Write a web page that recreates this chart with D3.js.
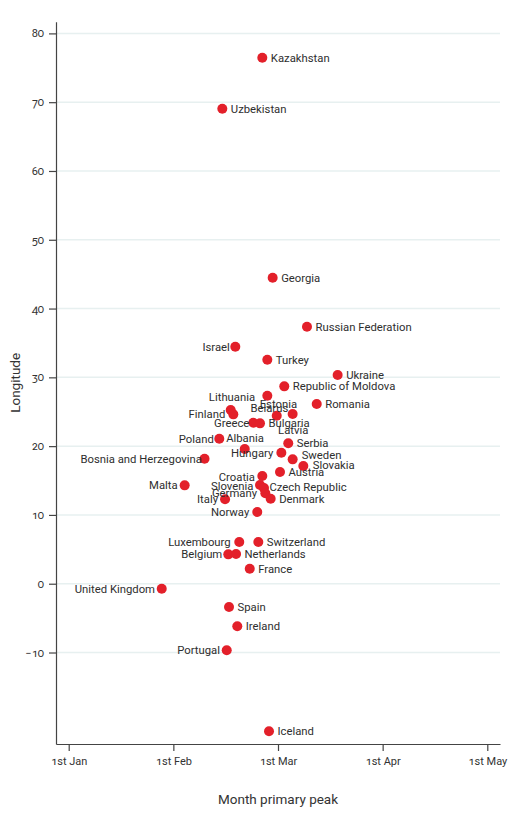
<!DOCTYPE html>
<html>
<head>
<meta charset="utf-8">
<script src="https://cdn.jsdelivr.net/npm/d3@7"></script>
<style>
  html, body { margin: 0; padding: 0; background: #fff; }
  svg { display: block; }
  .lbl { font-family: Roboto, "Noto Sans", sans-serif; font-size: 11.3px; fill: #2e2e2e; }
  .tick text { font-family: Roboto, "Noto Sans", sans-serif; font-size: 11px; fill: #333; font-feature-settings: "onum"; }
  .title { font-family: Roboto, "Noto Sans", sans-serif; font-size: 13.5px; fill: #333; }
</style>
</head>
<body>
<svg id="chart" width="527" height="818"></svg>
<script>
// ---- data (peak month as decimal month number, longitude in degrees) ----
const countries = ["Kazakhstan","Uzbekistan","Georgia","Russian Federation","Israel","Turkey","Ukraine",
  "Republic of Moldova","Belarus","Romania","Lithuania","Finland","Estonia","Latvia","Greece","Bulgaria",
  "Poland","Albania","Hungary","Serbia","Bosnia and Herzegovina","Sweden","Slovakia","Austria","Malta",
  "Croatia","Slovenia","Czech Republic","Germany","Denmark","Italy","Norway","Luxembourg","Switzerland",
  "Belgium","Netherlands","France","United Kingdom","Spain","Ireland","Portugal","Iceland"];
const peakMonth = [2.850,2.468,2.949,3.277,2.592,2.898,3.570,
  3.060,2.898,3.370,2.548,2.573,2.988,3.140,2.764,2.828,
  2.439,2.682,3.032,3.098,2.298,3.140,3.242,3.019,2.108,
  2.850,2.828,2.866,2.879,2.930,2.494,2.802,2.630,2.812,
  2.525,2.599,2.730,1.889,2.532,2.611,2.510,2.914];
const longitude = [76.45,69.04,44.48,37.35,34.45,32.56,30.33,
  28.69,27.33,26.12,25.25,24.62,24.42,24.67,23.40,23.31,
  21.08,19.58,19.04,20.41,18.17,18.08,17.11,16.24,14.30,
  15.65,14.35,13.90,13.14,12.34,12.28,10.42,6.06,6.06,
  4.27,4.32,2.18,-0.73,-3.39,-6.19,-9.68,-21.45];
const xTicks = [1,2,3,4,5];
const xTickLabels = ["1st Jan","1st Feb","1st Mar","1st Apr","1st May"];
const yTicks = [-10,0,10,20,30,40,50,60,70,80];

// ---- label layout (repelled positions, in px relative to the dot) ----
const labelLayout = {
  "Israel":[-5.5,0,"end"], "Lithuania":[1.3,-13,"middle"], "Finland":[-8,0,"end"],
  "Belarus":[2,12.6,"middle"], "Estonia":[1.6,-11.7,"middle"], "Latvia":[0.6,16,"middle"],
  "Greece":[-4,0,"end"], "Poland":[-5.5,0.5,"end"], "Albania":[0.3,-10.7,"middle"],
  "Hungary":[-8,0,"end"], "Bosnia and Herzegovina":[-2.6,0,"end"], "Sweden":[9,-4,"start"],
  "Slovakia":[9.4,-1,"start"], "Malta":[-7,0,"end"], "Croatia":[-7.3,1,"end"],
  "Slovenia":[-6.7,0.7,"end"], "Czech Republic":[5.5,-1.3,"start"], "Germany":[-8.3,0,"end"],
  "Italy":[-7,0,"end"], "Norway":[-8,0,"end"], "Luxembourg":[-8.6,0,"end"],
  "Belgium":[-6,0,"end"], "United Kingdom":[-6.7,0,"end"], "Portugal":[-6.7,0,"end"]
};
const defaultLabel = [8.5,0,"start"];

const data = countries.map((c,i)=>({country:c, month:peakMonth[i], lon:longitude[i]}));

const svg = d3.select("#chart");
const mLeft = 56, mRight = 500, mTop = 21.7, mBottom = 744;

const x = d3.scaleLinear().domain([0.8786, 5.1214]).range([mLeft, mRight]);
const y = d3.scaleLinear().domain([-23.3, 81.7]).range([mBottom, mTop]);

// gridlines
svg.append("g").selectAll("line").data(yTicks).join("line")
  .attr("x1", mLeft).attr("x2", mRight)
  .attr("y1", d=>y(d)).attr("y2", d=>y(d))
  .attr("stroke", "#e7f0f0").attr("stroke-width", 1.5);

// axes
const yAxis = svg.append("g").attr("transform", `translate(${mLeft},0)`)
  .call(d3.axisLeft(y).tickValues(yTicks).tickSize(7).tickSizeOuter(0).tickPadding(5)
    .tickFormat(d => d < 0 ? "\u2212" + Math.abs(d) : d));
const xAxis = svg.append("g").attr("transform", `translate(0,${mBottom})`)
  .call(d3.axisBottom(x).tickValues(xTicks).tickSize(7).tickSizeOuter(0).tickPadding(6)
    .tickFormat((d,i)=>xTickLabels[i]));
[yAxis, xAxis].forEach(a=>{
  a.select(".domain").attr("stroke","#444").attr("stroke-width",1.2);
  a.selectAll(".tick line").attr("stroke","#444").attr("stroke-width",1.2);
});

// points
svg.append("g").selectAll("circle").data(data).join("circle")
  .attr("cx", d=>x(d.month)).attr("cy", d=>y(d.lon)).attr("r", 5)
  .attr("fill", "#e3202a");

// labels
svg.append("g").selectAll("text").data(data).join("text")
  .attr("class","lbl")
  .each(function(d){
    const L = labelLayout[d.country] || defaultLabel;
    d3.select(this)
      .attr("x", x(d.month) + L[0])
      .attr("y", y(d.lon) + L[1])
      .attr("dy", "0.36em")
      .attr("text-anchor", L[2]);
  })
  .text(d=>d.country);

// axis titles
svg.append("text").attr("class","title")
  .attr("transform", `translate(15,${(mTop+mBottom)/2}) rotate(-90)`)
  .attr("text-anchor","middle").attr("dy","0.36em").text("Longitude");
svg.append("text").attr("class","title")
  .attr("x", (mLeft+mRight)/2).attr("y", 804)
  .attr("text-anchor","middle").text("Month primary peak");
</script>
</body>
</html>
